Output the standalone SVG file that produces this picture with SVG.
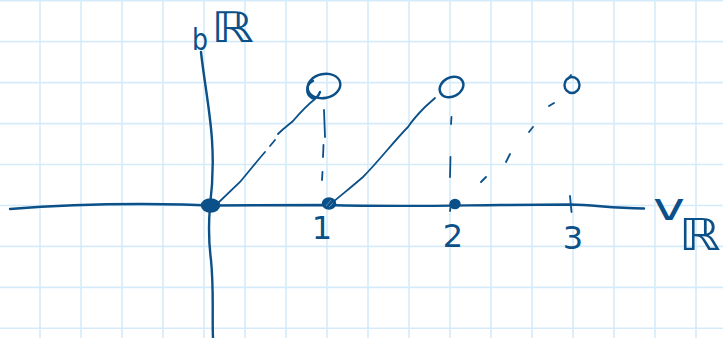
<svg xmlns="http://www.w3.org/2000/svg" width="723" height="338" viewBox="0 0 723 338">
<style>
.grid line{stroke:#d5ebfa;stroke-width:1.6}
.ink{fill:none;stroke:#0b5088;stroke-width:2.4;stroke-linecap:round;stroke-linejoin:round}
.thin{fill:none;stroke:#0b5088;stroke-width:1.8;stroke-linecap:round}
.fillink{fill:#0b5088;stroke:#0b5088;stroke-width:1.5}
.lbl{fill:#0b5088;font-family:"DejaVu Sans","Liberation Sans",sans-serif}
</style>
<rect width="723" height="338" fill="#ffffff"/>
<g class="grid">
<line x1="40" y1="0" x2="40" y2="338"/><line x1="81" y1="0" x2="81" y2="338"/><line x1="122" y1="0" x2="122" y2="338"/><line x1="163" y1="0" x2="163" y2="338"/><line x1="204" y1="0" x2="204" y2="338"/><line x1="245" y1="0" x2="245" y2="338"/><line x1="286" y1="0" x2="286" y2="338"/><line x1="327" y1="0" x2="327" y2="338"/><line x1="368" y1="0" x2="368" y2="338"/><line x1="409" y1="0" x2="409" y2="338"/><line x1="450" y1="0" x2="450" y2="338"/><line x1="491" y1="0" x2="491" y2="338"/><line x1="532" y1="0" x2="532" y2="338"/><line x1="573" y1="0" x2="573" y2="338"/><line x1="614" y1="0" x2="614" y2="338"/><line x1="655" y1="0" x2="655" y2="338"/><line x1="696" y1="0" x2="696" y2="338"/>
<line x1="0" y1="0.8" x2="723" y2="0.8"/><line x1="0" y1="41.6" x2="723" y2="41.6"/><line x1="0" y1="82.6" x2="723" y2="82.6"/><line x1="0" y1="123.6" x2="723" y2="123.6"/><line x1="0" y1="164.5" x2="723" y2="164.5"/><line x1="0" y1="205.5" x2="723" y2="205.5"/><line x1="0" y1="246.4" x2="723" y2="246.4"/><line x1="0" y1="287.4" x2="723" y2="287.4"/><line x1="0" y1="328.3" x2="723" y2="328.3"/>
</g>
<g id="axes">
<path class="ink" d="M201,52 C204,80 210,110 212,140 C214,170 212,190 210,206 C208,230 209,245 211,260 C214,290 212,315 213,338"/>
<path class="ink" d="M10,209 C60,205 110,203 183,204.5 L210,205.5 L327,205 C400,207 450,205.5 500,205 L571,204.5 C595,205 610,208 644,208.5"/>
<path class="thin" d="M570,196 L571.5,212"/>
</g>
<g id="label-b">
<text class="lbl" x="192" y="50" font-size="30" textLength="16" lengthAdjust="spacingAndGlyphs">b</text>
<text class="lbl" x="211" y="42" font-size="42" textLength="43" lengthAdjust="spacingAndGlyphs">ℝ</text>
</g>
<g id="label-v">
<text class="lbl" x="653" y="220" font-size="38" textLength="32" lengthAdjust="spacingAndGlyphs">v</text>
<text class="lbl" x="679" y="250" font-size="44" textLength="42" lengthAdjust="spacingAndGlyphs">ℝ</text>
</g>
<g id="tick-1"><text class="lbl" x="322" y="239" font-size="32" text-anchor="middle">1</text></g>
<g id="tick-2"><text class="lbl" x="453" y="247" font-size="32" text-anchor="middle">2</text></g>
<g id="tick-3"><text class="lbl" x="573" y="249" font-size="32" text-anchor="middle">3</text></g>
<g id="dot-0"><ellipse class="fillink" cx="210.5" cy="205.5" rx="9" ry="6.5"/></g>
<g id="dot-1"><ellipse class="fillink" cx="329" cy="203.5" rx="6.5" ry="5.5"/><path d="M326,206 L331,200 M329,207 L333,203" stroke="#5d8db8" stroke-width="1"/></g>
<g id="dot-2"><ellipse class="fillink" cx="455" cy="204" rx="5" ry="4.5"/><path class="thin" d="M451,205 L450,211"/></g>
<g id="circle-1"><ellipse class="ink" cx="324" cy="86" rx="16.5" ry="12" transform="rotate(-12 324 86)"/><path class="ink" d="M313,81 C306,84 305,94 312,98 C315,99 318,97 320,92"/></g>
<g id="circle-2"><ellipse class="ink" cx="451.5" cy="87" rx="12.5" ry="9.5" transform="rotate(-28 451.5 87)"/></g>
<g id="circle-3"><ellipse class="ink" cx="572" cy="85" rx="7.5" ry="8"/><path class="thin" d="M568,79 L571,75"/></g>
<g id="connectors">
<path class="thin" d="M217,204 L240,182 C250,170 258,160 265,152"/>
<path class="thin" d="M270,146 L275,140"/>
<path class="thin" d="M278,134 C285,127 290,124 293,121 C299,114 306,106 315,99"/>
<path class="thin" d="M324,110 L325,137 M323.5,145 L323,157 M322.5,172 L322,180" stroke-width="2.2"/>
<path class="thin" d="M333,202 C345,192 355,184 363,177 C378,162 395,140 408,127 C414,118 420,112 425,107 L435,98"/>
<path class="thin" d="M451.5,117 L451,124 M450.5,157 L450,177"/>
<path class="thin" d="M481,182 L486,177 M506,162 L510,154 M529,132 L533,127 M549,106 L554,103"/>
</g>
</svg>
